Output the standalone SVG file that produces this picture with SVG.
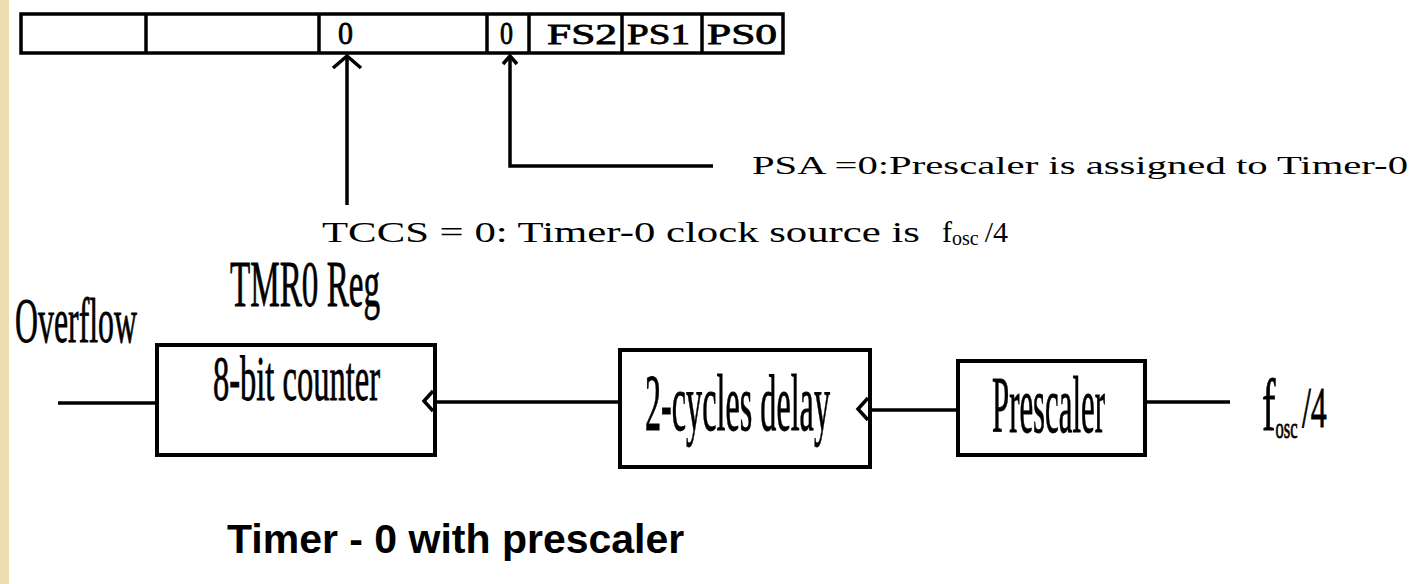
<svg xmlns="http://www.w3.org/2000/svg" width="1414" height="584" viewBox="0 0 1414 584">
<style>
.ln{stroke:#000;stroke-width:3.5;fill:none}
.bx{stroke:#000;stroke-width:4;fill:#fff}
.sf{font-family:"Liberation Serif","DejaVu Serif",serif;fill:#000}
.bg{stroke:#000;stroke-width:0.8}
.tt{font-family:"Liberation Sans",Arial,sans-serif;font-weight:bold;fill:#000}
</style>
<rect x="0" y="0" width="1414" height="584" fill="#fff"/>
<rect x="0" y="0" width="9" height="584" fill="#efddb2"/>
<g id="register">
<rect x="21" y="14" width="762" height="39" class="ln" stroke-width="4"/>
<line x1="146" y1="14" x2="146" y2="53" class="ln" stroke-width="4"/>
<line x1="319" y1="14" x2="319" y2="53" class="ln" stroke-width="4"/>
<line x1="487" y1="14" x2="487" y2="53" class="ln" stroke-width="4"/>
<line x1="529" y1="14" x2="529" y2="53" class="ln" stroke-width="2.5"/>
<line x1="622" y1="14" x2="622" y2="53" class="ln" stroke-width="2.5"/>
<line x1="702" y1="14" x2="702" y2="53" class="ln" stroke-width="2.5"/>
<text x="338" y="44" class="sf bg" font-size="32" stroke-width="0.6" textLength="15" lengthAdjust="spacingAndGlyphs">0</text>
<text x="500" y="44" class="sf bg" font-size="32" stroke-width="0.6" textLength="13" lengthAdjust="spacingAndGlyphs">0</text>
<text x="547" y="44" class="sf bg" font-size="30" stroke-width="0.6" textLength="70" lengthAdjust="spacingAndGlyphs">FS2</text>
<text x="627" y="44" class="sf bg" font-size="30" stroke-width="0.6" textLength="63" lengthAdjust="spacingAndGlyphs">PS1</text>
<text x="707" y="44" class="sf bg" font-size="30" stroke-width="0.6" textLength="70" lengthAdjust="spacingAndGlyphs">PS0</text>
</g>
<g id="connectors">
<line x1="347" y1="56" x2="347" y2="205" class="ln"/>
<polyline points="333,68 347,56 361,68" class="ln"/>
<polyline points="510,56 510,166 713,166" class="ln"/>
<polyline points="503,64 510,56 517,64" class="ln" stroke-width="2.5"/>
<line x1="58" y1="403" x2="157" y2="403" class="ln"/>
<line x1="435" y1="402" x2="620" y2="402" class="ln"/>
<line x1="870" y1="410" x2="958" y2="410" class="ln" stroke-width="8"/>
<line x1="1145" y1="402" x2="1230" y2="402" class="ln"/>
</g>
<g id="psa-label">
<text x="752" y="174" class="sf" font-size="26" textLength="656" lengthAdjust="spacingAndGlyphs">PSA =0:Prescaler is assigned to Timer-0</text>
</g>
<g id="tccs-label">
<text x="322" y="242" class="sf" font-size="30" textLength="598" lengthAdjust="spacingAndGlyphs">TCCS  = 0: Timer-0 clock source is</text>
<text x="942" y="242" class="sf" font-size="30">f<tspan font-size="20" dy="3">osc</tspan><tspan dy="-3" dx="6">/4</tspan></text>
</g>
<g id="tmr0-label">
<text x="230" y="306" class="sf bg" font-size="66" textLength="150" lengthAdjust="spacingAndGlyphs">TMR0 Reg</text>
</g>
<g id="overflow-label">
<text x="15" y="342" class="sf bg" font-size="64" textLength="122" lengthAdjust="spacingAndGlyphs">Overflow</text>
</g>
<g id="counter">
<rect x="157" y="345" width="278" height="110" class="bx"/>
<text x="213" y="400" class="sf bg" font-size="64" textLength="167" lengthAdjust="spacingAndGlyphs">8-bit counter</text>
<polyline points="433,391 424,401 433,411" class="ln"/>
</g>
<g id="delay">
<rect x="620" y="350" width="250" height="117" class="bx"/>
<text x="645" y="430" class="sf bg" font-size="80" textLength="185" lengthAdjust="spacingAndGlyphs">2-cycles delay</text>
<polyline points="868,398 858,409 868,420" class="ln"/>
</g>
<g id="prescaler">
<rect x="958" y="361" width="187" height="94" class="bx"/>
<text x="992" y="432" class="sf bg" font-size="80" textLength="113" lengthAdjust="spacingAndGlyphs">Prescaler</text>
</g>
<g id="fosc-label">
<text transform="translate(1262,430) scale(0.55,1)" class="sf bg" font-size="74">f<tspan font-size="30" dy="8">osc</tspan><tspan font-size="58" dy="-11" dx="8">/4</tspan></text>
</g>
<g id="title">
<text x="227" y="553" class="tt" font-size="41">Timer - 0 with prescaler</text>
</g>
</svg>
